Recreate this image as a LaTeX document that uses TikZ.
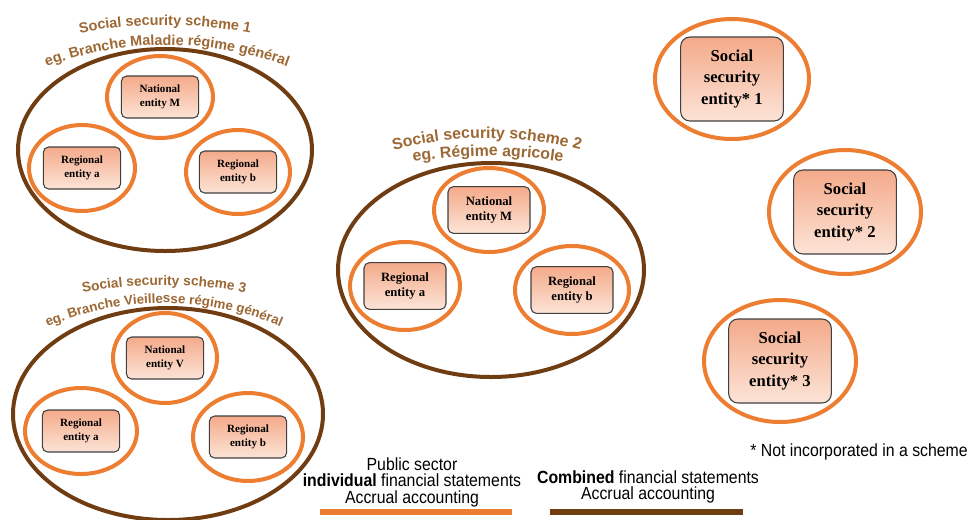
\documentclass[tikz,border=0pt]{standalone}
\usepackage{fontspec}
\setmainfont{Liberation Serif}
\newfontfamily\arialfont{Liberation Sans}
\newfontfamily\narrowfont[FakeStretch=0.9]{Liberation Sans}
\usetikzlibrary{positioning,decorations.text}

\definecolor{ringorange}{RGB}{237,125,49}
\definecolor{schemebrown}{RGB}{112,60,18}
\definecolor{schemetext}{RGB}{156,104,52}
\definecolor{boxtop}{RGB}{244,170,138}
\definecolor{boxbottom}{RGB}{252,228,215}
\definecolor{boxline}{RGB}{64,64,64}

\begin{document}
\begin{tikzpicture}[
    x=0.75pt, y=0.75pt,
    entity/.style={draw=boxline, line width=0.8pt, rounded corners=4pt, top color=boxtop, bottom color=boxbottom, align=center, inner sep=1pt, minimum width=58pt, minimum height=31.5pt, font=\bfseries\fontsize{8.3}{10.5}\selectfont},
    midentity/.style={entity, minimum width=61.5pt, minimum height=35pt, font=\bfseries\fontsize{9.5}{11}\selectfont},
    bigentity/.style={entity, rounded corners=7pt, minimum width=77pt, minimum height=63pt, font=\bfseries\fontsize{12.5}{16}\selectfont},
    ring/.style={draw=ringorange, line width=3pt},
    scheme/.style={draw=schemebrown, line width=3pt},
    schemelabel/.style={decorate, decoration={text along path, text align=center, text color=schemetext, text={#1}}},
    legend/.style={align=center, inner sep=2pt, font=\narrowfont\fontsize{13.2}{12.4}\selectfont},
    bar/.style={line width=4.5pt}
]
\useasboundingbox[fill=white] (0,0) rectangle (974,-519);

% scheme 1
\draw[scheme] (165,-150) ellipse [x radius=147, y radius=101];
\path[schemelabel={|\arialfont\bfseries\fontsize{10.8}{13}\selectfont|Social security scheme 1}] (165,-480) ++(104:455) arc [start angle=104, end angle=76, radius=455];
\path[schemelabel={|\arialfont\bfseries\fontsize{10.8}{13}\selectfont|eg. Branche Maladie régime général}] (167,-391) ++(118:346) arc [start angle=118, end angle=62, radius=346];
\node[entity] (nat1) at (160,-97) {National\\entity M};
\node[entity] (rega1) at (82,-168) {Regional\\entity a};
\node[entity] (regb1) at (238,-172) {Regional\\entity b};
\draw[ring] (nat1.center) ellipse [x radius=53, y radius=41];
\draw[ring] (rega1.center) ellipse [x radius=53, y radius=43];
\draw[ring] (regb1.center) ellipse [x radius=52, y radius=42];

% scheme 2
\draw[scheme] (491,-270) ellipse [x radius=153, y radius=107];
\path[schemelabel={|\arialfont\bfseries\fontsize{11.9}{14}\selectfont|Social security scheme 2}] (487,-504) ++(112:366) arc [start angle=112, end angle=68, radius=366];
\path[schemelabel={|\arialfont\bfseries\fontsize{11.9}{14}\selectfont|eg. Régime agricole}] (488,-626) ++(104:470) arc [start angle=104, end angle=76, radius=470];
\node[midentity] (nat2) at (489,-210) {National\\entity M};
\node[midentity] (rega2) at (405,-286) {Regional\\entity a};
\node[midentity] (regb2) at (572,-290) {Regional\\entity b};
\draw[ring] (nat2.center) ellipse [x radius=55, y radius=42];
\draw[ring] (rega2.center) ellipse [x radius=55, y radius=44];
\draw[ring] (regb2.center) ellipse [x radius=57, y radius=44];

% scheme 3
\draw[scheme] (168,-414) ellipse [x radius=155, y radius=106];
\path[schemelabel={|\arialfont\bfseries\fontsize{10.3}{12}\selectfont|Social security scheme 3}] (164,-709) ++(106:424) arc [start angle=106, end angle=74, radius=424];
\path[schemelabel={|\arialfont\bfseries\fontsize{10}{12}\selectfont|eg. Branche Vieillesse régime général}] (164,-599) ++(122:296) arc [start angle=122, end angle=58, radius=296];
\node[entity] (nat3) at (165,-358) {National\\entity V};
\node[entity] (rega3) at (81,-431) {Regional\\entity a};
\node[entity] (regb3) at (248,-437) {Regional\\entity b};
\draw[ring] (nat3.center) ellipse [x radius=52, y radius=45];
\draw[ring] (rega3.center) ellipse [x radius=56, y radius=43];
\draw[ring] (regb3.center) ellipse [x radius=55, y radius=44];

% entities outside a scheme
\node[bigentity] (ent1) at (732,-79) {Social\\security\\entity* 1};
\node[bigentity] (ent2) at (845,-212) {Social\\security\\entity* 2};
\node[bigentity] (ent3) at (780,-361) {Social\\security\\entity* 3};
\draw[ring] (ent1.center) ellipse [x radius=77, y radius=60];
\draw[ring] (ent2.center) ellipse [x radius=76, y radius=62];
\draw[ring] (ent3.center) ellipse [x radius=76, y radius=61];

% legend
\node[legend] (pubtext) at (412,-482) {Public sector\\\textbf{individual} financial statements\\Accrual accounting};
\coordinate (pubL) at (320,-512);
\coordinate (pubR) at (512,-512);
\draw[bar, ringorange] (pubL) -- (pubR);
\node[legend] (combtext) at (648,-487) {\textbf{Combined} financial statements\\Accrual accounting};
\coordinate (combL) at (550,-512);
\coordinate (combR) at (743,-512);
\draw[bar, schemebrown] (combL) -- (combR);
\node[legend] (note) at (859,-452) {* Not incorporated in a scheme};
\end{tikzpicture}
\end{document}
